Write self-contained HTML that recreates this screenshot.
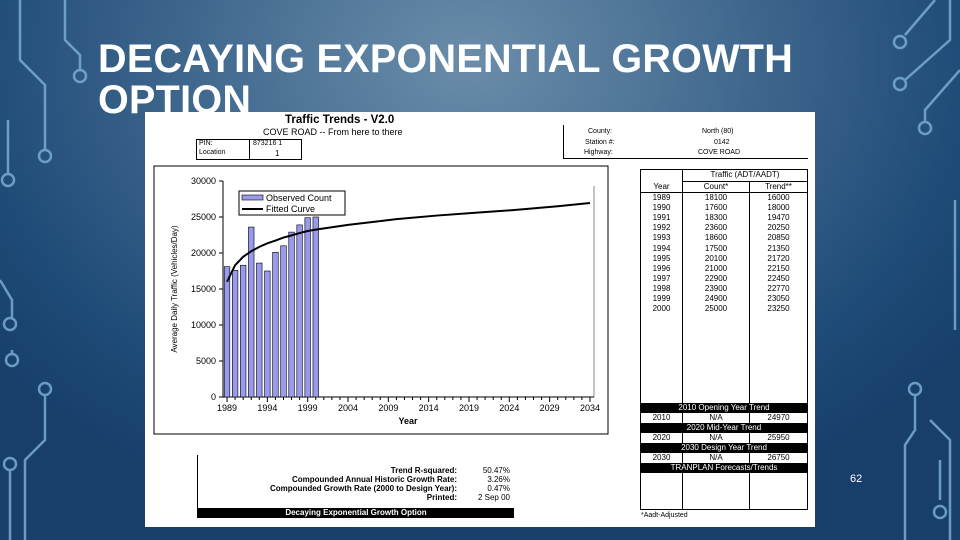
<!DOCTYPE html>
<html><head><meta charset="utf-8"><style>
*{margin:0;padding:0;box-sizing:border-box}
body{width:960px;height:540px;overflow:hidden;font-family:"Liberation Sans",sans-serif;position:relative;
background:radial-gradient(ellipse 620px 480px at 470px 60px,#6b8daa 0%,#40688e 45%,#1f4b78 80%,#173f6a 100%)}
.abs{position:absolute}
.t{font-size:8px;color:#000;white-space:nowrap}
</style></head><body>
<svg class="abs" style="left:0;top:0" width="960" height="540">
<g stroke="#7fb2d8" stroke-width="2.5" fill="none" opacity="0.8">
<path d="M20 0 V60 L45 85 V150"/><circle cx="45" cy="156" r="6"/>
<path d="M8 120 V175"/><circle cx="8" cy="180" r="6"/>
<path d="M65 0 V40 L80 55 V70"/><circle cx="80" cy="76" r="6"/>
<path d="M0 280 L12 300 V318"/><circle cx="10" cy="324" r="6"/>
<path d="M12 350 V355"/><circle cx="12" cy="360" r="6"/>
<path d="M45 395 V440 L25 460 V540"/><circle cx="45" cy="389" r="6"/>
<path d="M10 470 V540"/><circle cx="10" cy="464" r="6"/>
<path d="M950 0 V40 L905 80"/><circle cx="900" cy="84" r="6"/>
<path d="M935 0 L905 35"/><circle cx="900" cy="42" r="6"/>
<path d="M960 70 L925 110 V122"/><circle cx="925" cy="128" r="6"/>
<path d="M915 395 V430 L905 445 V540"/><circle cx="915" cy="389" r="6"/>
<path d="M955 200 V330"/>
<path d="M940 460 V500"/><circle cx="940" cy="512" r="6"/>
<path d="M930 420 L950 440 V540"/>
</g></svg>
<div class="abs" style="left:98px;top:39px;color:#fff;font-size:39.5px;line-height:41px;font-weight:bold;letter-spacing:0.3px">DECAYING EXPONENTIAL GROWTH<br>OPTION</div>
<div class="abs" style="left:850px;top:473px;color:#fff;font-size:11px">62</div>

<div class="abs" style="left:145px;top:112px;width:670px;height:415px;background:#fff">
 <div class="abs" style="left:140px;top:2px;font-size:11.5px;font-weight:bold">Traffic Trends - V2.0</div>
 <div class="abs" style="left:118px;top:15px;font-size:9px">COVE ROAD -- From here to there</div>
 <div class="abs" style="left:51px;top:27px;width:106px;height:21px;border:1px solid #000">
  <div class="abs" style="left:52px;top:0;width:1px;height:19px;background:#000"></div>
  <div class="abs t" style="left:2px;top:0;font-size:7px">PIN:</div>
  <div class="abs t" style="left:2px;top:9px;font-size:7px">Location</div>
  <div class="abs t" style="left:56px;top:0;font-size:7px">873216 1</div>
  <div class="abs t" style="left:78px;top:9px;font-size:8px">1</div>
 </div>
 <div class="abs" style="left:418px;top:13px;width:245px;height:34px;border-left:1px solid #000;border-bottom:1px solid #000">
  <div class="abs t" style="left:24px;top:3px;font-size:7px">County:</div>
  <div class="abs t" style="left:21px;top:14px;font-size:7px">Station #:</div>
  <div class="abs t" style="left:20px;top:24px;font-size:7px">Highway:</div>
  <div class="abs t" style="left:138px;top:3px;font-size:7px">North (80)</div>
  <div class="abs t" style="left:150px;top:14px;font-size:7px">0142</div>
  <div class="abs t" style="left:134px;top:24px;font-size:7px">COVE ROAD</div>
 </div>
 <svg class="abs" id="chart" style="left:0;top:0" width="670" height="415"></svg>
 <div class="abs" style="left:52px;top:343px;width:316px;height:63px;border-left:1px solid #000">
  <div class="abs t" style="right:56px;top:11px;font-weight:bold">Trend R-squared:</div>
  <div class="abs t" style="right:56px;top:20px;font-weight:bold">Compounded Annual Historic Growth Rate:</div>
  <div class="abs t" style="right:56px;top:29px;font-weight:bold">Compounded Growth Rate (2000 to Design Year):</div>
  <div class="abs t" style="right:56px;top:38px;font-weight:bold">Printed:</div>
  <div class="abs t" style="right:3px;top:11px">50.47%</div>
  <div class="abs t" style="right:3px;top:20px">3.26%</div>
  <div class="abs t" style="right:3px;top:29px">0.47%</div>
  <div class="abs t" style="right:3px;top:38px">2 Sep 00</div>
  <div class="abs" style="left:0;top:53px;width:316px;height:10px;background:#000;color:#fff;font-size:8px;font-weight:bold;text-align:center;line-height:10px">Decaying Exponential Growth Option</div>
 </div>
 <div class="abs" style="left:495px;top:57px;width:168px;height:341px;border:1px solid #000">
  <div id="tbl"></div>
 </div>
 <div class="abs t" style="left:496px;top:400px;font-size:7px">*Aadt-Adjusted</div>
</div>

<script>
const years=[1989,1990,1991,1992,1993,1994,1995,1996,1997,1998,1999,2000];
const counts=[18100,17600,18300,23600,18600,17500,20100,21000,22900,23900,24900,25000];
const curveYears=[1989,1990,1991,1992,1993,1994,1995,1996,1997,1998,1999,2000,2004,2010,2015,2020,2025,2030,2034];
const curveVals=[16000,18300,19470,20250,20850,21350,21720,22150,22450,22770,23050,23250,23900,24700,25200,25600,26000,26500,26950];
const yTicks=[0,5000,10000,15000,20000,25000,30000];
const xLabels=[1989,1994,1999,2004,2009,2014,2019,2024,2029,2034];
const tableTrend=["16000","18000","19470","20250","20850","21350","21720","22150","22450","22770","23050","23250"];
const NS="http://www.w3.org/2000/svg";
const svg=document.getElementById('chart');
const X0=78,X1=449,Y0=285,Y1=69;
const xs=y=>X0+(y-1988.5)*(X1-X0)/46;
const ys=v=>Y0-v*(Y0-Y1)/30000;
function mk(t,a,p){const e=document.createElementNS(NS,t);for(const k in a)e.setAttribute(k,a[k]);(p||svg).appendChild(e);return e;}
const fr=mk('rect',{x:9,y:54,width:454,height:268,fill:'none',stroke:'#000','stroke-width':1});


const ya=mk('line',{x1:X0,y1:Y1,x2:X0,y2:Y0,stroke:'#000'});


mk('line',{x1:X1,y1:Y1+5,x2:X1,y2:Y0,stroke:'#888'});
const xa=mk('line',{x1:X0,y1:Y0,x2:X1,y2:Y0,stroke:'#000'});


yTicks.forEach(v=>{mk('line',{x1:X0-4,y1:ys(v),x2:X0,y2:ys(v),stroke:'#000'});
 const t=mk('text',{x:X0-7,y:ys(v)+3,'text-anchor':'end','font-size':9,'font-family':'Liberation Sans'});t.textContent=v;
 
 });
for(let y=1989;y<=2034;y++)mk('line',{x1:xs(y),y1:Y0,x2:xs(y),y2:Y0+(y%5==4?5:3),stroke:'#000'});
xLabels.forEach(y=>{const t=mk('text',{x:xs(y),y:Y0+14,'text-anchor':'middle','font-size':9,'font-family':'Liberation Sans'});t.textContent=y;
 
 });
const xt=mk('text',{x:263,y:312,'text-anchor':'middle','font-size':9,'font-weight':'bold','font-family':'Liberation Sans'});xt.textContent='Year';


const yt=mk('text',{x:0,y:0,'text-anchor':'middle','font-size':8,'font-family':'Liberation Sans',transform:'translate(32,177) rotate(-90)'});yt.textContent='Average Daily Traffic (Vehicles/Day)';


years.forEach((y,i)=>{const b=mk('rect',{x:xs(y)-2.8,y:ys(counts[i]),width:5.6,height:Y0-ys(counts[i]),fill:'#9999ee',stroke:'#000','stroke-width':0.6});
 
 });
const pl=mk('polyline',{points:curveYears.map((y,i)=>xs(y)+','+ys(curveVals[i])).join(' '),fill:'none',stroke:'#000','stroke-width':2});


const lg=mk('g',{});


mk('rect',{x:94,y:79,width:106,height:24,fill:'#fff',stroke:'#000'},lg);
mk('rect',{x:97,y:83,width:21,height:5,fill:'#9999ee',stroke:'#000','stroke-width':0.6},lg);
mk('line',{x1:97,y1:97,x2:118,y2:97,stroke:'#000','stroke-width':2},lg);
const l1=mk('text',{x:121,y:89,'font-size':9,'font-family':'Liberation Sans'},lg);l1.textContent='Observed Count';
const l2=mk('text',{x:121,y:100,'font-size':9,'font-family':'Liberation Sans'},lg);l2.textContent='Fitted Curve';
let h='';
function cell(l,t,w,txt,al,col){return `<div style="position:absolute;left:${l}px;top:${t}px;width:${w}px;font-size:8px;line-height:10px;text-align:${al||'center'};color:${col||'#000'};white-space:nowrap">${txt}</div>`;}
h+=`<div style="position:absolute;left:41px;top:0;width:1px;height:339px;background:#000"></div>`;
h+=`<div style="position:absolute;left:108px;top:11px;width:1px;height:328px;background:#000"></div>`;
h+=`<div style="position:absolute;left:41px;top:11px;width:125px;height:1px;background:#000"></div>`;
h+=`<div style="position:absolute;left:0;top:22px;width:166px;height:1px;background:#000"></div>`;
h+=cell(42,0,124,'Traffic (ADT/AADT)');
h+=cell(0,12,41,'Year');h+=cell(42,12,66,'Count*');h+=cell(109,12,57,'Trend**');
years.forEach((y,i)=>{const t=23+i*10.1;h+=cell(0,t,41,y);h+=cell(42,t,66,counts[i]);h+=cell(109,t,57,tableTrend[i]);});
const bands=[['2010 Opening Year Trend',['2010','N/A','24970']],['2020 Mid-Year Trend',['2020','N/A','25950']],['2030 Design Year Trend',['2030','N/A','26750']],['TRANPLAN Forecasts/Trends',null]];
bands.forEach((b,i)=>{const t=233+i*20;h+=`<div style="position:absolute;left:0;top:${t}px;width:166px;height:10px;background:#000;z-index:2"></div>`;
 h+=`<div style="position:absolute;left:0;top:${t}px;width:166px;z-index:3">${cell(0,0,166,b[0],'center','#fff')}</div>`;
 if(b[1]){h+=cell(0,t+10,41,b[1][0]);h+=cell(42,t+10,66,b[1][1]);h+=cell(109,t+10,57,b[1][2]);}});
document.getElementById('tbl').innerHTML=h;
</script>
</body></html>
